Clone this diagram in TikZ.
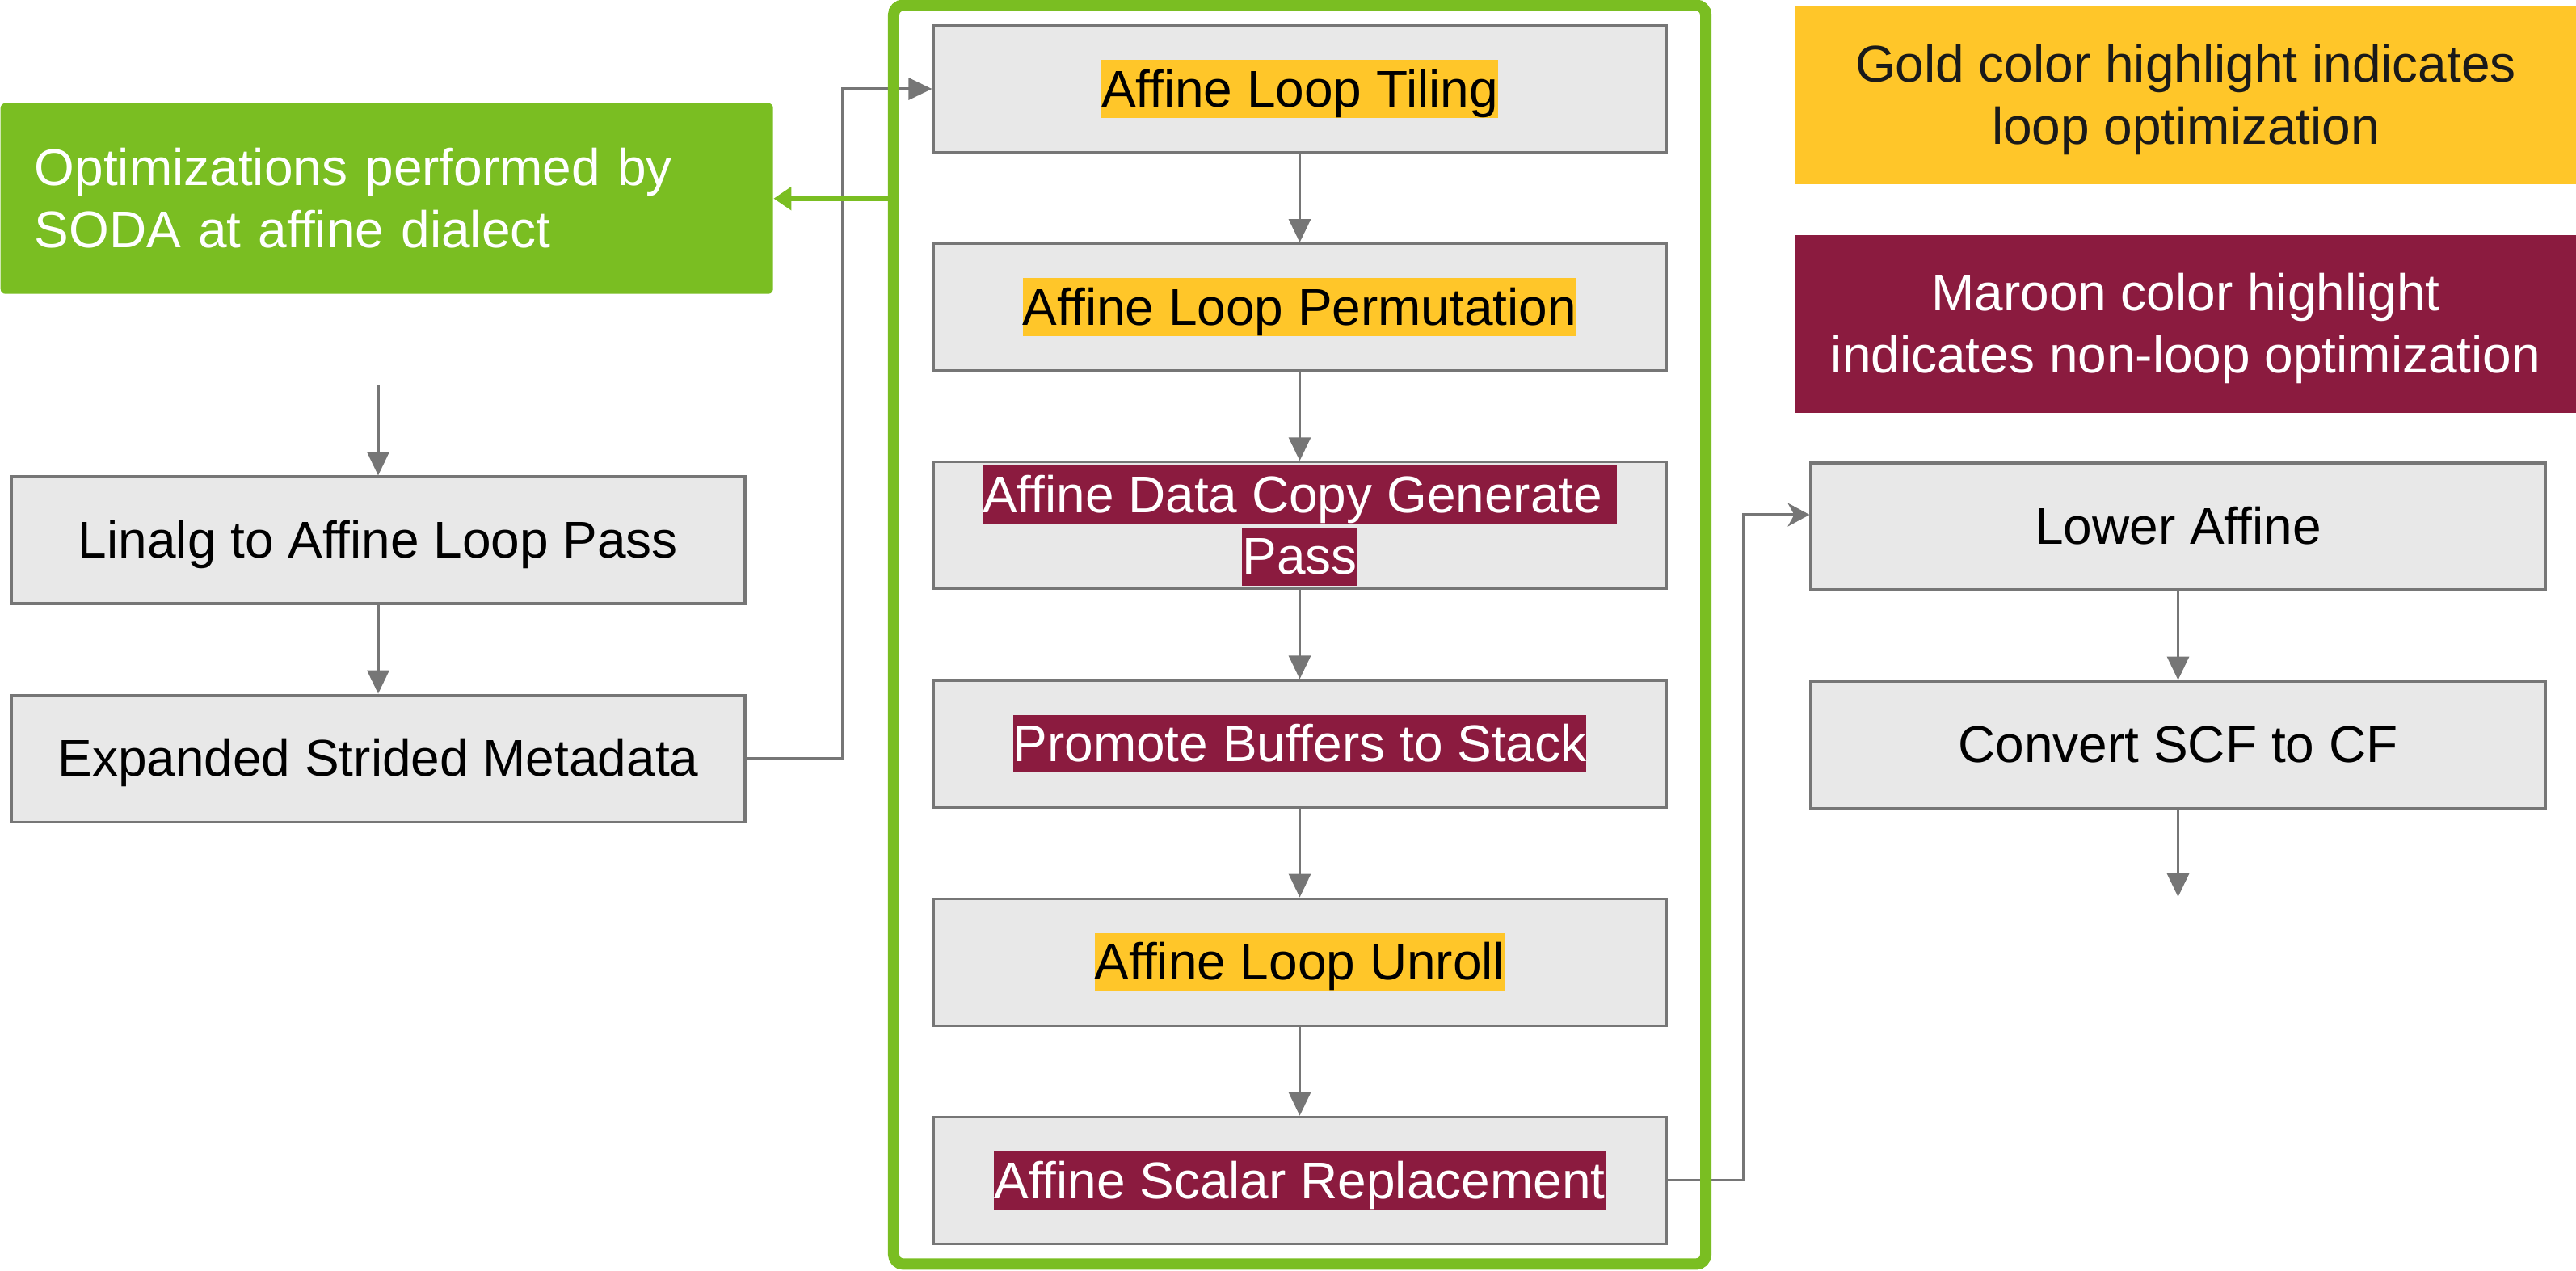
\documentclass[tikz,border=0pt]{standalone}
\usepackage{fontspec}
\setmainfont{Liberation Sans}
\usetikzlibrary{positioning,arrows.meta,fit}
\definecolor{cGreen}{HTML}{7ABE22}
\definecolor{cGold}{HTML}{FFC629}
\definecolor{cMaroon}{HTML}{8B1B3F}
\definecolor{cBox}{HTML}{E8E8E8}
\definecolor{cLine}{HTML}{767676}
\definecolor{cDark}{HTML}{1A1A1A}
\newcommand{\lstrut}{\rule[-3.9pt]{0pt}{20.4pt}}
\newcommand{\hlgold}[1]{{\setlength{\fboxsep}{0pt}\colorbox{cGold}{\lstrut#1}}}
\newcommand{\hlmaroon}[1]{{\setlength{\fboxsep}{0pt}\colorbox{cMaroon}{\color{white}\lstrut#1}}}

\begin{document}
\begin{tikzpicture}[font=\fontsize{18.2pt}{21.8pt}\selectfont,
      passbox/.style={draw=cLine,fill=cBox,line width=0.9pt,minimum width=9.07cm,minimum height=1.57cm,inner sep=0pt,align=center},
      keybox/.style={minimum width=9.66cm,minimum height=2.2cm,inner sep=0pt,align=center},
      flowarrow/.style={draw=cLine,line width=0.9pt,-{Triangle[length=0.29cm,width=0.27cm]}}]
    \useasboundingbox (0,0) rectangle (31.88,-15.72);
    \node[fill=cGreen,text=white,rounded corners=0.06cm,anchor=north west,text width=8.72cm,
          inner xsep=0.42cm,inner ysep=0pt,minimum height=2.36cm,align=left] (soda) at (0,-1.27)
          {\lstrut Optimizations performed by\\SODA at affine dialect\lstrut};
    % passes inside the affine frame
    \node[passbox] (tiling) at (16.085,-1.10) {\hlgold{Affine Loop Tiling}};
    \node[passbox,below=1.1cm of tiling] (perm) {\hlgold{Affine Loop Permutation}};
    \node[passbox,below=1.1cm of perm] (copy) {\hlmaroon{Affine Data Copy Generate\ }\\\hlmaroon{Pass}};
    \node[passbox,below=1.1cm of copy] (promote) {\hlmaroon{Promote Buffers to Stack}};
    \node[passbox,below=1.1cm of promote] (unroll) {\hlgold{Affine Loop Unroll}};
    \node[passbox,below=1.1cm of unroll] (scalar) {\hlmaroon{Affine Scalar Replacement}};
    % left and right columns
    \node[passbox,minimum width=9.08cm] (linalg) at (4.68,-6.685) {\lstrut Linalg to Affine Loop Pass};
    \node[passbox,minimum width=9.08cm,below=1.1cm of linalg] (strided) {\lstrut Expanded Strided Metadata};
    \node[passbox,minimum width=9.09cm] (lower) at (26.955,-6.515) {\lstrut Lower Affine};
    \node[passbox,minimum width=9.09cm,below=1.1cm of lower] (scftocf) {\lstrut Convert SCF to CF};
    % legend
    \node[keybox,fill=cGold,text=cDark] (goldkey) at (27.05,-1.18)
          {\lstrut Gold color highlight indicates\\loop optimization\lstrut};
    \node[keybox,fill=cMaroon,text=white] (maroonkey) at (27.05,-4.01)
          {\lstrut Maroon color highlight\\indicates non-loop optimization\lstrut};
    % connectors
    \coordinate (linalgin) at (4.68,-4.76);
    \coordinate (cfout) at (26.955,-11.10);
    \draw[flowarrow] (linalgin) -- (linalg);
    \draw[flowarrow] (linalg) -- (strided);
    \draw[flowarrow] (strided.east) -- ++(1.19,0) |- (tiling.west);
    \foreach \a/\b in {tiling/perm,perm/copy,copy/promote,promote/unroll,unroll/scalar}
      \draw[flowarrow] (\a) -- (\b);
    \draw[draw=cLine,line width=0.9pt,-{Stealth[length=0.27cm,width=0.29cm,inset=0.08cm]}]
          (scalar.east) -- ++(0.935,0) |- ([yshift=0.145cm]lower.west);
    \draw[flowarrow] (lower) -- (scftocf);
    \draw[flowarrow] (scftocf) -- (cfout);
    % green frame
    \node[draw=cGreen,line width=0.14cm,rounded corners=0.12cm,inner xsep=0.475cm,inner ysep=0.235cm,
          fit=(tiling)(scalar)] (optframe) {};
    \draw[cGreen,line width=0.07cm,-{Triangle[length=0.22cm,width=0.28cm]}] (optframe.west |- soda.east) -- (soda.east);
  \end{tikzpicture}
\end{document}
